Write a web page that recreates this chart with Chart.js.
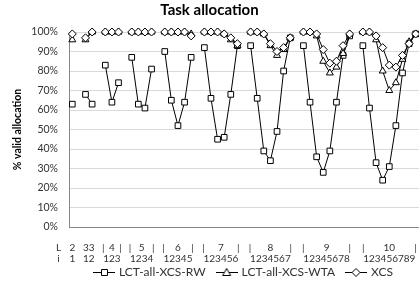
<!DOCTYPE html>
<html>
<head>
<meta charset="utf-8">
<style>
  html, body { margin: 0; padding: 0; background: #fff; }
  #wrap { width: 419px; height: 292px; }
</style>
<script src="https://cdn.jsdelivr.net/npm/chart.js@4.4.0/dist/chart.umd.min.js"></script>
</head>
<body>
<div id="wrap"><canvas id="chart"></canvas></div>
<script>
// groups on the x axis: L = 2..10, each has i = 1..L-1
const groupL = [2, 3, 4, 5, 6, 7, 8, 9, 10];
const groupText = ["2", "33", "4", "5", "6", "7", "8", "9", "10"];

// % valid allocation, one inner list per L group
const rwValues = [
  [63], [68, 63], [83, 64, 74], [87, 63, 61, 81], [90, 65, 52, 64, 87],
  [92, 66, 45, 46, 68, 93], [93, 66, 39, 34, 49, 80, 97],
  [93, 64, 36, 28, 39, 64, 88, 98], [93, 61, 33, 24, 31, 52, 79, 94, 99]
];
const wtaValues = [
  [96], [96, 100], [100, 100, 100], [100, 100, 100, 100], [100, 100, 100, 100, 99],
  [100, 100, 100, 99, 96, 93], [100, 100, 99, 93, 88, 91, 97],
  [100, 100, 98, 85, 79, 82, 89, 99], [100, 100, 96, 80, 70, 74, 86, 95, 99]
];
const xcsValues = [
  [99], [97, 100], [100, 100, 100], [100, 100, 100, 100], [100, 100, 100, 100, 98],
  [100, 100, 100, 99, 97, 94], [100, 100, 99, 94, 90, 92, 97],
  [100, 100, 99, 91, 84, 85, 93, 99], [100, 100, 98, 92, 83, 82, 88, 94, 99]
];
const yTicks = [0, 10, 20, 30, 40, 50, 60, 70, 80, 90, 100];

// flat category list, with an empty slot between groups so the lines break
const labels = [];
groupL.forEach((L, g) => {
  if (g > 0) labels.push("");
  for (let i = 1; i < L; i++) labels.push(L + "/" + i);
});
function flatten(groups) {
  const out = [];
  groups.forEach((vals, g) => {
    if (g > 0) out.push(null);
    vals.forEach(v => out.push(v));
  });
  return out;
}

const FONT = "Lato, 'Open Sans', sans-serif";

// little line+marker picture for the legend
function legendIcon(style) {
  const c = document.createElement("canvas");
  c.width = 22; c.height = 10;
  const g = c.getContext("2d");
  g.strokeStyle = "#000"; g.lineWidth = 1;
  g.beginPath(); g.moveTo(0, 5.5); g.lineTo(22, 5.5); g.stroke();
  g.fillStyle = "#fff";
  g.beginPath();
  if (style === "rect") g.rect(8.5, 2.5, 6, 6);
  else if (style === "triangle") { g.moveTo(11, 1.5); g.lineTo(15, 8.5); g.lineTo(7, 8.5); g.closePath(); }
  else { g.moveTo(11, 1.5); g.lineTo(15, 5.5); g.lineTo(11, 9.5); g.lineTo(7, 5.5); g.closePath(); }
  g.fill(); g.stroke();
  return c;
}

function series(label, groups, style, order) {
  return {
    label: label,
    data: flatten(groups),
    borderColor: "#000",
    borderWidth: 1,
    pointStyle: style,
    pointRadius: 4,
    pointBackgroundColor: "#fff",
    pointBorderColor: "#000",
    pointBorderWidth: 1,
    tension: 0,
    clip: 5,
    order: order
  };
}

// two rows of text under the x axis: L row and i row
const axisText = {
  id: "axisText",
  afterDraw(chart) {
    const ctx = chart.ctx;
    const x = chart.scales.x;
    const y1 = x.top + 21, y2 = x.top + 32;
    ctx.save();
    ctx.fillStyle = "#333";
    ctx.font = "10px " + FONT;
    ctx.textAlign = "center";
    ctx.textBaseline = "middle";
    ctx.fillText("L", x.left - 10.5, y1);
    ctx.fillText("i", x.left - 10.5, y2);
    let idx = 0;
    groupL.forEach((L, g) => {
      const n = L - 1;
      const cx = (x.getPixelForValue(idx) + x.getPixelForValue(idx + n - 1)) / 2;
      let digits = "";
      for (let i = 1; i <= n; i++) digits += i;
      ctx.fillText(digits, cx, y2);
      ctx.fillText(groupText[g], cx, y1);
      if (n >= 3) {
        const w = ctx.measureText(digits).width;
        ctx.fillText("|", cx - w / 2, y1);
        ctx.fillText("|", cx + w / 2, y1);
      }
      idx += n + 1;
    });
    ctx.restore();
  }
};

new Chart(document.getElementById("chart"), {
  type: "line",
  data: {
    labels: labels,
    datasets: [
      series("LCT-all-XCS-RW", rwValues, "rect", 3),
      series("LCT-all-XCS-WTA", wtaValues, "triangle", 2),
      series("XCS", xcsValues, "rectRot", 1)
    ]
  },
  options: {
    responsive: true,
    maintainAspectRatio: false,
    animation: false,
    layout: { autoPadding: false, padding: { left: 0, right: 0, top: 0, bottom: 4 } },
    scales: {
      x: {
        type: "category",
        offset: true,
        grid: { display: false },
        border: { display: true, color: "#868686" },
        ticks: { display: false },
        afterFit(s) { s.height = 27; }
      },
      y: {
        min: 0,
        max: 100,
        afterBuildTicks(s) { s.ticks = yTicks.map(v => ({ value: v })); },
        grid: { color: "#d9d9d9", drawTicks: false },
        border: { display: true, color: "#868686" },
        ticks: {
          padding: 11,
          color: "#333",
          font: { family: FONT, size: 10.5 },
          callback: v => v + "%"
        },
        title: {
          display: true,
          text: "% valid allocation",
          color: "#000",
          font: { family: FONT, size: 10.5, weight: "bold" },
          padding: { top: 11, bottom: 0 }
        },
        afterFit(s) { s.width = 69; }
      }
    },
    plugins: {
      title: {
        display: true,
        text: "Task allocation",
        color: "#000",
        font: { family: FONT, size: 15, weight: "bold" },
        padding: { top: 1, bottom: 13 }
      },
      legend: {
        position: "bottom",
        fullSize: false,
        labels: {
          usePointStyle: true,
          pointStyleWidth: 18,
          color: "#333",
          font: { family: FONT, size: 12 },
          padding: 12,
          generateLabels(chart) {
            return chart.data.datasets.map((ds, i) => ({
              text: ds.label,
              pointStyle: legendIcon(ds.pointStyle),
              fillStyle: "#fff",
              strokeStyle: "#000",
              lineWidth: 0,
              hidden: false,
              datasetIndex: i,
              fontColor: "#333"
            }));
          }
        }
      },
      tooltip: { enabled: false }
    }
  },
  plugins: [axisText]
});
</script>
</body>
</html>
